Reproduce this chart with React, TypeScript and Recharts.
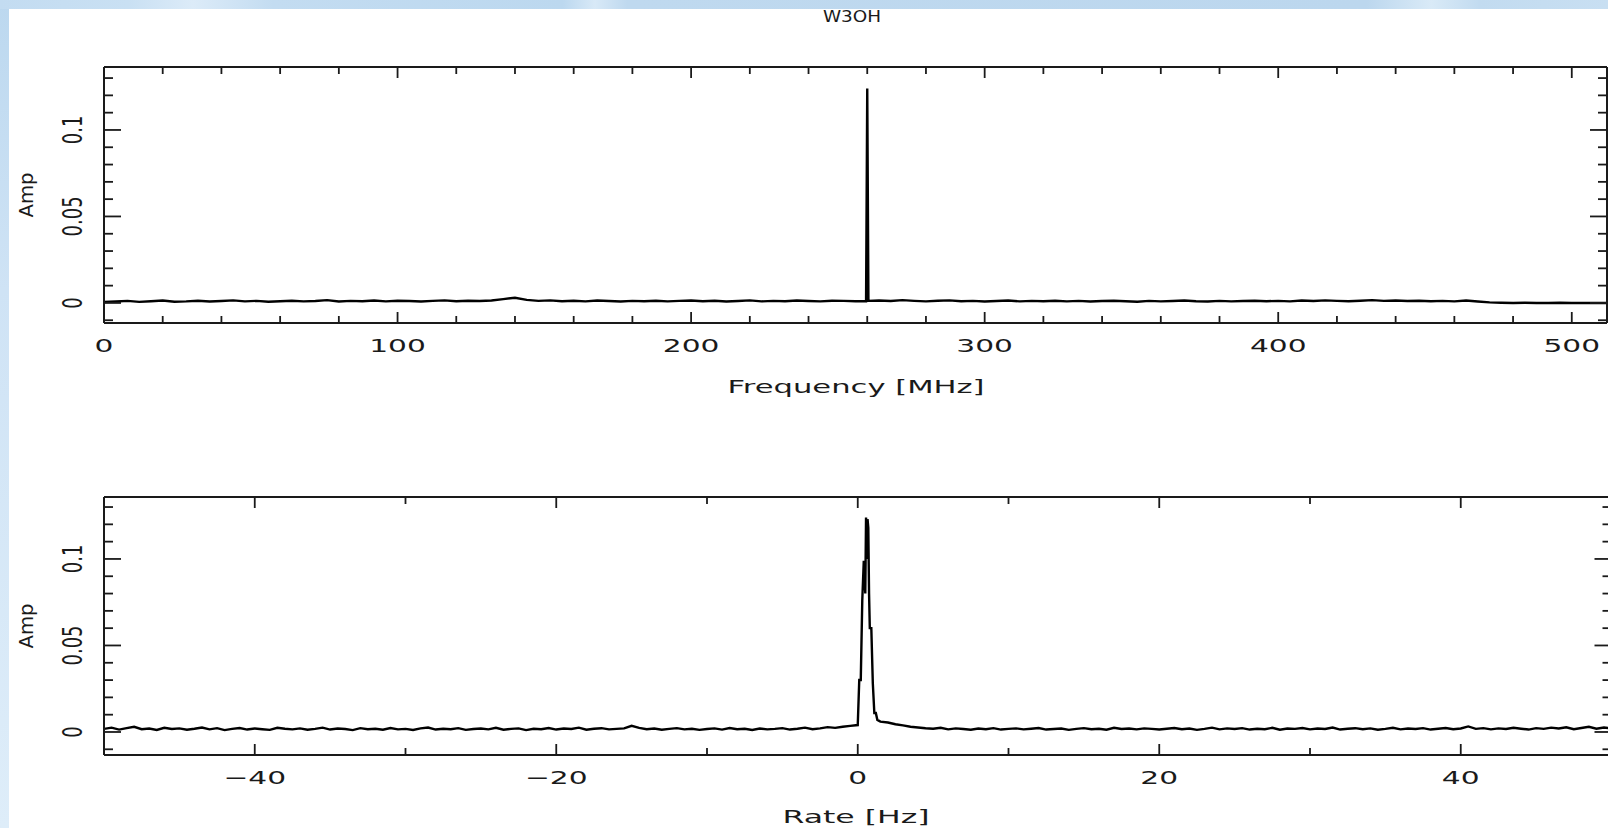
import React from 'react';
import { LineChart, Line, XAxis, YAxis } from 'recharts';

// ---------- data ----------
const freqMHz = [
  0, 4, 8, 12, 16, 20, 24, 28, 32, 36, 40, 44, 48, 52, 56, 60,
  64, 68, 72, 76, 80, 84, 88, 92, 96, 100, 104, 108, 112, 116, 120, 124,
  128, 132, 136, 140, 144, 148, 152, 156, 160, 164, 168, 172, 176, 180, 184, 188,
  192, 196, 200, 204, 208, 212, 216, 220, 224, 228, 232, 236, 240, 244, 248, 252,
  256, 259.6, 260, 260.4,
  264, 268, 272, 276, 280, 284, 288, 292, 296, 300, 304, 308, 312, 316, 320, 324,
  328, 332, 336, 340, 344, 348, 352, 356, 360, 364, 368, 372, 376, 380, 384, 388,
  392, 396, 400, 404, 408, 412, 416, 420, 424, 428, 432, 436, 440, 444, 448, 452,
  456, 460, 464, 468, 472, 476, 480, 484, 488, 492, 496, 500, 504, 508, 512,
];
// amplitude in units of 1e-4
const freqAmpE4 = [
  5, 8, 12, 6, 10, 14, 7, 9, 13, 8, 11, 15, 9, 12, 7, 10,
  13, 9, 11, 16, 8, 12, 10, 14, 9, 13, 11, 8, 12, 15, 10, 13,
  11, 14, 22, 30, 18, 12, 15, 10, 13, 9, 14, 11, 8, 12, 10, 13,
  9, 12, 14, 10, 13, 8, 11, 15, 9, 12, 10, 14, 11, 9, 13, 12,
  10, 10, 1240, 12,
  14, 11, 16, 12, 9, 13, 15, 10, 12, 8, 11, 14, 9, 12, 10, 13,
  9, 12, 8, 11, 13, 10, 7, 12, 9, 11, 14, 10, 8, 12, 9, 11,
  13, 10, 12, 9, 14, 11, 15, 12, 10, 13, 16, 12, 14, 11, 13, 10,
  12, 9, 14, 8, 3, 1, 0, 1, 0, 0, 1, 0, 0, 0, 0,
];

const rateHz = [
  -50, -49.5, -49, -48.5, -48, -47.5, -47, -46.5, -46, -45.5,
  -45, -44.5, -44, -43.5, -43, -42.5, -42, -41.5, -41, -40.5,
  -40, -39.5, -39, -38.5, -38, -37.5, -37, -36.5, -36, -35.5,
  -35, -34.5, -34, -33.5, -33, -32.5, -32, -31.5, -31, -30.5,
  -30, -29.5, -29, -28.5, -28, -27.5, -27, -26.5, -26, -25.5,
  -25, -24.5, -24, -23.5, -23, -22.5, -22, -21.5, -21, -20.5,
  -20, -19.5, -19, -18.5, -18, -17.5, -17, -16.5, -16, -15.5,
  -15, -14.5, -14, -13.5, -13, -12.5, -12, -11.5, -11, -10.5,
  -10, -9.5, -9, -8.5, -8, -7.5, -7, -6.5, -6, -5.5,
  -5, -4.5, -4, -3.5, -3, -2.5, -2, -1.5, -1,
  -0.5,
  0, 0.1, 0.2, 0.3, 0.4, 0.5, 0.55, 0.6, 0.65, 0.7, 0.75, 0.8, 0.9, 1, 1.1, 1.2, 1.3, 1.5,
  2, 2.5, 3, 3.5, 4, 4.5,
  5, 5.5, 6, 6.5, 7, 7.5, 8, 8.5, 9, 9.5,
  10, 10.5, 11, 11.5, 12, 12.5, 13, 13.5, 14, 14.5,
  15, 15.5, 16, 16.5, 17, 17.5, 18, 18.5, 19, 19.5,
  20, 20.5, 21, 21.5, 22, 22.5, 23, 23.5, 24, 24.5,
  25, 25.5, 26, 26.5, 27, 27.5, 28, 28.5, 29, 29.5,
  30, 30.5, 31, 31.5, 32, 32.5, 33, 33.5, 34, 34.5,
  35, 35.5, 36, 36.5, 37, 37.5, 38, 38.5, 39, 39.5,
  40, 40.5, 41, 41.5, 42, 42.5, 43, 43.5, 44, 44.5,
  45, 45.5, 46, 46.5, 47, 47.5, 48, 48.5, 49, 49.5, 50,
];
// amplitude in units of 1e-4
const rateAmpE4 = [
  18, 25, 14, 22, 30, 16, 20, 12, 24, 17,
  21, 13, 19, 26, 15, 22, 11, 18, 23, 14,
  20, 16, 12, 24, 19, 15, 21, 13, 18, 25,
  14, 20, 17, 11, 22, 16, 19, 13, 23, 15,
  18, 12, 21, 26, 14, 19, 16, 22, 12, 17,
  20, 15, 24, 13, 18, 21, 11, 19, 16, 23,
  14, 20, 17, 25, 13, 19, 22, 15, 18, 21,
  36, 24, 16, 20, 13, 18, 22, 15, 19, 12,
  17, 21, 14, 23, 16, 19, 12, 20, 15, 18,
  22, 14, 19, 25, 16, 21, 28, 24, 30,
  35,
  40, 300, 300, 760, 990, 800, 1240, 1000, 1230, 1180, 800, 600, 600, 280, 110, 110, 70, 60,
  55, 45, 38, 30, 26, 22,
  19, 24, 15, 21, 17, 13, 20, 16, 22, 14,
  18, 21, 15, 19, 23, 14, 17, 20, 12, 18,
  22, 16, 19, 13, 24, 17, 20, 15, 21, 18,
  14, 19, 23, 16, 20, 12, 18, 25, 15, 21,
  17, 22, 14, 19, 16, 24, 13, 20, 18, 23,
  15, 20, 17, 26, 14, 19, 22, 16, 21, 13,
  18, 24, 15, 20, 17, 22, 14, 19, 23, 16,
  20, 32, 18, 22, 15, 21, 17, 24, 19, 14,
  22, 18, 25, 20, 27, 16, 23, 30, 19, 26, 21,
];

const freqTicks = [0, 20, 40, 60, 80, 100, 120, 140, 160, 180, 200, 220, 240, 260, 280, 300, 320, 340, 360, 380, 400, 420, 440, 460, 480, 500];
const freqMajor = [0, 100, 200, 300, 400, 500];
const rateTicks = [-50, -40, -30, -20, -10, 0, 10, 20, 30, 40, 50];
const rateMajor = [-40, -20, 0, 20, 40];
const ampTicks = [-0.01, 0, 0.01, 0.02, 0.03, 0.04, 0.05, 0.06, 0.07, 0.08, 0.09, 0.1, 0.11, 0.12, 0.13];
const ampMajor = [0, 0.05, 0.1];
const ampLabels = ['0', '0.05', '0.1'];

const freqData = freqMHz.map((f, i) => ({ x: f, amp: freqAmpE4[i] / 10000 }));
const rateData = rateHz.map((r, i) => ({ x: r, amp: rateAmpE4[i] / 10000 }));

// ---------- styling ----------
const INK = '#1a1a1a';
const FONT = '"DejaVu Sans", sans-serif';
const isIn = (arr: number[], v: number) => arr.some((a) => Math.abs(a - v) < 1e-9);
const fmtX = (v: number) => (v < 0 ? '\u2212' + Math.abs(v) : String(v));
const fmtY = (v: number) => {
  const i = ampMajor.findIndex((a) => Math.abs(a - v) < 1e-9);
  return i >= 0 ? ampLabels[i] : '';
};

const makeXTick = (major: number[], side: 'bottom' | 'top', withLabel: boolean) => (props: any) => {
  const { x, y, payload } = props;
  const v = payload.value;
  const isMajor = isIn(major, v);
  const len = isMajor ? 11 : 7;
  const dir = side === 'bottom' ? -1 : 1;
  return (
    <g>
      <line x1={x} x2={x} y1={y} y2={y + dir * len} stroke={INK} strokeWidth={1.8} />
      {withLabel && isMajor ? (
        <text
          transform={`translate(${x},${y + 29}) scale(1.65,1)`}
          textAnchor="middle"
          fontSize={18}
          fontFamily={FONT}
          fill={INK}
        >
          {fmtX(v)}
        </text>
      ) : null}
    </g>
  );
};

const makeYTick = (side: 'left' | 'right', withLabel: boolean) => (props: any) => {
  const { x, y, payload } = props;
  const v = payload.value;
  const isMajor = isIn(ampMajor, v);
  const len = isMajor ? 17 : 9;
  const dir = side === 'left' ? 1 : -1;
  return (
    <g>
      <line x1={x} x2={x + dir * len} y1={y} y2={y} stroke={INK} strokeWidth={1.8} />
      {withLabel && isMajor ? (
        <text
          transform={`translate(${x - 22},${y}) scale(1.5,1) rotate(-90)`}
          textAnchor="middle"
          fontSize={18}
          fontFamily={FONT}
          fill={INK}
        >
          {fmtY(v)}
        </text>
      ) : null}
    </g>
  );
};

type PanelProps = {
  data: { x: number; amp: number }[];
  xDomain: [number, number];
  xTicks: number[];
  xMajor: number[];
  yDomain: [number, number];
  width: number;
  height: number;
  margin: { top: number; right: number; bottom: number; left: number };
};

const axisLine = { stroke: INK, strokeWidth: 2 };

function Panel({ data, xDomain, xTicks, xMajor, yDomain, width, height, margin }: PanelProps) {
  return (
    <LineChart width={width} height={height} data={data} margin={margin}>
      <XAxis
        xAxisId="b"
        dataKey="x"
        type="number"
        domain={xDomain}
        allowDataOverflow
        ticks={xTicks}
        interval={0}
        orientation="bottom"
        height={1}
        tickSize={0}
        tickMargin={0}
        tickLine={false}
        axisLine={axisLine}
        tick={makeXTick(xMajor, 'bottom', true)}
      />
      <XAxis
        xAxisId="t"
        dataKey="x"
        type="number"
        domain={xDomain}
        allowDataOverflow
        ticks={xTicks}
        interval={0}
        orientation="top"
        height={1}
        tickSize={0}
        tickMargin={0}
        tickLine={false}
        axisLine={axisLine}
        tick={makeXTick(xMajor, 'top', false)}
      />
      <YAxis
        yAxisId="l"
        type="number"
        domain={yDomain}
        allowDataOverflow
        ticks={ampTicks}
        interval={0}
        orientation="left"
        width={1}
        tickSize={0}
        tickMargin={0}
        tickLine={false}
        axisLine={axisLine}
        tick={makeYTick('left', true)}
      />
      <YAxis
        yAxisId="r"
        type="number"
        domain={yDomain}
        allowDataOverflow
        ticks={ampTicks}
        interval={0}
        orientation="right"
        width={1}
        tickSize={0}
        tickMargin={0}
        tickLine={false}
        axisLine={axisLine}
        tick={makeYTick('right', false)}
      />
      <Line
        xAxisId="b"
        yAxisId="l"
        dataKey="amp"
        type="linear"
        stroke="#000"
        strokeWidth={2.4}
        dot={false}
        activeDot={false}
        isAnimationActive={false}
      />
    </LineChart>
  );
}

export default function App() {
  return (
    <div
      style={{
        position: 'fixed',
        left: 0,
        top: 0,
        width: 1608,
        height: 828,
        overflow: 'hidden',
        background: 'linear-gradient(180deg, #bcd8ef 0%, #cfe3f5 35%, #deedf9 100%)',
      }}
    >
      <div
        style={{
          position: 'absolute',
          left: 0,
          top: 0,
          width: 1608,
          height: 9,
          background:
            'linear-gradient(90deg, #c3dcf1 0%, #c9e0f3 8%, #dcebf8 12%, #c3dcf1 17%, #bcd8ef 35%, #d8e9f7 37%, #bfd9ef 39%, #bcd7ee 85%, #d9eaf7 89%, #c2dbf0 92%, #c8dff2 100%)',
        }}
      />
      <div style={{ position: 'absolute', left: 9, top: 9, width: 1600, height: 820, background: '#ffffff' }} />
      <div style={{ position: 'absolute', left: 0, top: 0 }}>
        <Panel
          data={freqData}
          xDomain={[0, 512]}
          xTicks={freqTicks}
          xMajor={freqMajor}
          yDomain={[-0.0116, 0.1364]}
          width={1620}
          height={420}
          margin={{ top: 66, right: 12, bottom: 96, left: 103 }}
        />
      </div>
      <div style={{ position: 'absolute', left: 0, top: 440 }}>
        <Panel
          data={rateData}
          xDomain={[-50, 50]}
          xTicks={rateTicks}
          xMajor={rateMajor}
          yDomain={[-0.0133, 0.1358]}
          width={1625}
          height={388}
          margin={{ top: 56, right: 12.5, bottom: 72, left: 103 }}
        />
      </div>
      <svg
        width={1608}
        height={828}
        style={{ position: 'absolute', left: 0, top: 0, pointerEvents: 'none' }}
      >
        <text
          transform="translate(852,22) scale(1.15,1)"
          textAnchor="middle"
          fontSize={16}
          fontFamily={FONT}
          fill={INK}
        >
          W3OH
        </text>
        <text
          transform="translate(856,393) scale(1.7,1)"
          textAnchor="middle"
          fontSize={18}
          fontFamily={FONT}
          fill={INK}
        >
          Frequency [MHz]
        </text>
        <text
          transform="translate(856,823) scale(1.75,1)"
          textAnchor="middle"
          fontSize={18}
          fontFamily={FONT}
          fill={INK}
        >
          Rate [Hz]
        </text>
        <text
          transform="translate(33,195) scale(1.2,1) rotate(-90)"
          textAnchor="middle"
          fontSize={16}
          fontFamily={FONT}
          fill={INK}
          textLength={45}
          lengthAdjust="spacingAndGlyphs"
        >
          Amp
        </text>
        <text
          transform="translate(33,626) scale(1.2,1) rotate(-90)"
          textAnchor="middle"
          fontSize={16}
          fontFamily={FONT}
          fill={INK}
          textLength={45}
          lengthAdjust="spacingAndGlyphs"
        >
          Amp
        </text>
      </svg>
    </div>
  );
}
